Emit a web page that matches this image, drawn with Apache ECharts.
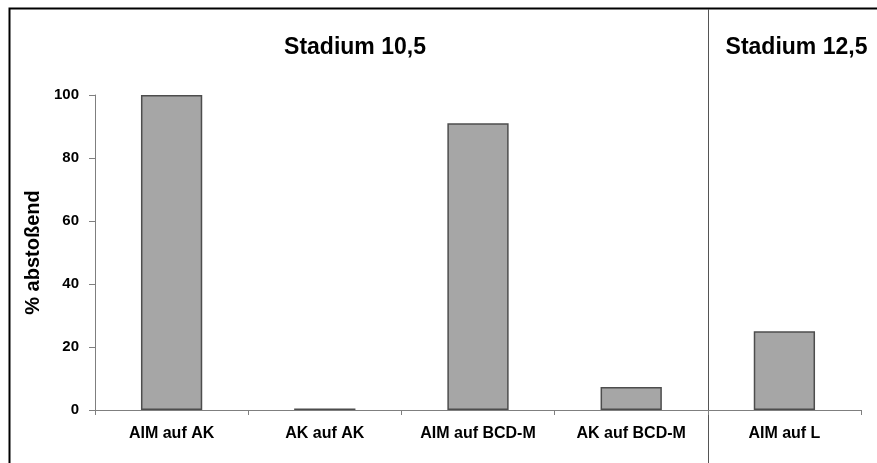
<!DOCTYPE html>
<html><head><meta charset="utf-8">
<script src="https://cdn.jsdelivr.net/npm/echarts@6/dist/echarts.min.js"></script>
<style>html,body{margin:0;padding:0;background:#fff}#c{width:877px;height:463px}</style>
</head><body><div id="c"></div>
<script>
const categories = ['AIM auf AK', 'AK auf AK', 'AIM auf BCD-M', 'AK auf BCD-M', 'AIM auf L'];
const values = [100, 0.5, 91, 7.3, 25];
const yTicks = [0, 20, 40, 60, 80, 100];
const groupTitles = ['Stadium 10,5', 'Stadium 12,5'];

const FONT = '"Liberation Sans", Arial, sans-serif';
const chart = echarts.init(document.getElementById('c'), null, {renderer: 'canvas'});
const option = {
  animation: false,
  backgroundColor: '#fff',
  grid: {left: 95, right: 16, top: 95, bottom: 53},
  xAxis: {
    type: 'category', data: categories,
    axisLine: {lineStyle: {color: '#7f7f7f', width: 1}},
    axisTick: {show: true, length: 5, lineStyle: {color: '#7f7f7f'}},
    axisLabel: {color: '#000', fontFamily: FONT, fontWeight: 'bold', fontSize: 16, margin: 16}
  },
  yAxis: {
    type: 'value', min: 0, max: 100, interval: 20,
    name: '% abstoßend', nameLocation: 'middle', nameGap: 50,
    nameTextStyle: {color: '#000', fontFamily: FONT, fontWeight: 'bold', fontSize: 20},
    axisLine: {show: true, lineStyle: {color: '#7f7f7f', width: 1}},
    axisTick: {show: true, length: 6, lineStyle: {color: '#7f7f7f'}},
    splitLine: {show: false},
    axisLabel: {color: '#000', fontFamily: FONT, fontWeight: 'bold', fontSize: 15, margin: 16,
      formatter: v => yTicks.includes(v) ? String(v) : ''}
  },
  series: [{
    type: 'bar', data: values, barWidth: '40%',
    itemStyle: {color: '#a6a6a6', borderColor: '#4d4d4d', borderWidth: 1.5}
  }]
};
chart.setOption(option);

const p3 = chart.convertToPixel({xAxisIndex: 0}, categories[3]);
const p4 = chart.convertToPixel({xAxisIndex: 0}, categories[4]);
const sepX = Math.round((p3 + p4) / 2) + 0.5;
chart.setOption({
  graphic: [
    {type: 'rect', shape: {x: 9.5, y: 8.5, width: 900, height: 500}, style: {fill: null, stroke: '#000', lineWidth: 2}, silent: true},
    {type: 'line', shape: {x1: sepX, y1: 9, x2: sepX, y2: 463}, style: {stroke: '#555', lineWidth: 1}, silent: true},
    {type: 'text', x: 355, y: 48, style: {text: groupTitles[0], fill: '#000', font: 'bold 23px ' + FONT, textAlign: 'center', textVerticalAlign: 'middle'}},
    {type: 'text', x: sepX + 88, y: 48, style: {text: groupTitles[1], fill: '#000', font: 'bold 23px ' + FONT, textAlign: 'center', textVerticalAlign: 'middle'}}
  ]
});
</script></body></html>
